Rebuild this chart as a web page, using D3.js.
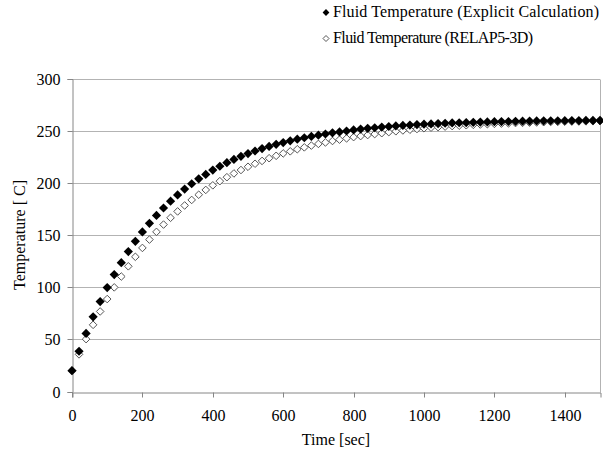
<!DOCTYPE html>
<html>
<head>
<meta charset="utf-8">
<script src="https://cdn.jsdelivr.net/npm/d3@7"></script>
<style>
  html, body { margin: 0; padding: 0; background: #fff; }
  svg { display: block; }
</style>
</head>
<body>
<svg id="chart" width="603" height="451"></svg>
<script>
// ---- data ----
const timeStart = 0, timeStep = 20;   // seconds between samples
const explicitTemp = [
  20, 38.6, 55.7, 71.6, 86.2, 99.6, 112.1, 123.5, 134.1, 143.9,
  152.9, 161.2, 168.8, 175.9, 182.4, 188.4, 194.0, 199.1, 203.8, 208.1,
  212.2, 215.9, 219.3, 222.4, 225.4, 228.0, 230.5, 232.8, 234.9, 236.9,
  238.6, 240.3, 241.8, 243.2, 244.5, 245.7, 246.8, 247.9, 248.8, 249.7,
  250.7, 251.5, 252.2, 252.8, 253.4, 254.0, 254.5, 255.0, 255.4, 255.8,
  256.2, 256.5, 256.8, 257.1, 257.4, 257.6, 257.8, 258.0, 258.2, 258.4,
  258.6, 258.7, 258.8, 259.0, 259.1, 259.2, 259.3, 259.4, 259.5, 259.5,
  259.6, 259.7, 259.7, 259.8, 259.8, 259.9
];
const relapTemp = [
  20, 35.6, 50.2, 63.9, 76.7, 88.6, 99.8, 110.2, 120.0, 129.1,
  137.6, 145.6, 153.0, 160.0, 166.5, 172.6, 178.3, 183.6, 188.6, 193.2,
  197.6, 201.6, 205.4, 209.0, 212.3, 215.4, 218.3, 221.0, 223.6, 225.9,
  228.2, 230.2, 232.2, 234.0, 235.7, 237.3, 238.7, 240.1, 241.4, 242.6,
  243.8, 244.8, 245.8, 246.7, 247.6, 248.6, 249.4, 250.2, 250.9, 251.6,
  252.3, 252.9, 253.4, 253.9, 254.4, 254.8, 255.2, 255.6, 255.9, 256.2,
  256.5, 256.8, 257.0, 257.3, 257.5, 257.7, 257.9, 258.1, 258.3, 258.4,
  258.6, 258.7, 258.8, 258.9, 259.0, 259.1
];
const xTicks = [0, 200, 400, 600, 800, 1000, 1200, 1400];
const yTicks = [0, 50, 100, 150, 200, 250, 300];
const seriesNames = ["Fluid Temperature (Explicit Calculation)", "Fluid Temperature (RELAP5-3D)"];
const xTitle = "Time [sec]";
const yTitle = "Temperature [ C]";

// ---- layout ----
const FONT = '"Liberation Serif"';
const svg = d3.select("#chart");
const plot = { left: 72, right: 600, top: 78.5, bottom: 391.5 };
const x = d3.scaleLinear().domain([0, 1500]).range([plot.left, plot.right]);
const y = d3.scaleLinear().domain([0, 300]).range([plot.bottom, plot.top]);

const axisColor = "#868686";
const gridColor = "#b3b3b3";
const fontSize = 16;

function styleText(sel) {
  sel.attr("font-family", "Liberation Serif").style("font-family", FONT)
     .attr("font-size", fontSize).attr("fill", "#000");
  return sel;
}

// gridlines
svg.append("g").selectAll("line").data(yTicks.filter(d => d > 0)).join("line")
  .attr("x1", plot.left).attr("x2", plot.right)
  .attr("y1", d => Math.round(y(d)) + 0.5).attr("y2", d => Math.round(y(d)) + 0.5)
  .attr("stroke", gridColor).attr("stroke-width", 1);

// right border
svg.append("line")
  .attr("x1", plot.right + 0.5).attr("x2", plot.right + 0.5)
  .attr("y1", Math.round(y(300)) + 0.5).attr("y2", Math.round(y(0)) + 0.5)
  .attr("stroke", gridColor);

// axes
const yAxis = svg.append("g")
  .attr("transform", `translate(${plot.left + 0.5},0.5)`)
  .call(d3.axisLeft(y).tickValues(yTicks).tickSize(5).tickPadding(7).tickFormat(d3.format("d")));
const xAxis = svg.append("g")
  .attr("transform", `translate(0.5,${Math.round(plot.bottom) + 0.5})`)
  .call(d3.axisBottom(x).tickValues(xTicks).tickSize(5).tickPadding(12).tickFormat(d3.format("d")));
[xAxis, yAxis].forEach(g => {
  g.attr("font-family", null).attr("font-size", null);
  g.select(".domain").attr("stroke", axisColor);
  g.selectAll(".tick line").attr("stroke", axisColor);
  styleText(g.selectAll(".tick text"));
});
yAxis.selectAll(".tick").attr("transform", d => `translate(0,${Math.round(y(d))})`);
xAxis.selectAll(".tick").attr("transform", d => `translate(${Math.round(x(d))},0)`);

// axis titles
styleText(svg.append("text").attr("x", (plot.left + plot.right) / 2).attr("y", 444.5)
  .attr("text-anchor", "middle")).text(xTitle);
styleText(svg.append("text")
  .attr("transform", `translate(24.5,${(plot.top + plot.bottom) / 2}) rotate(-90)`)
  .attr("text-anchor", "middle")).text(yTitle);

// diamond path
const diamond = r => `M0,${-r}L${r},0L0,${r}L${-r},0Z`;

const relapData = relapTemp.map((v, i) => ({ t: timeStart + i * timeStep, v }));
const explicitData = explicitTemp.map((v, i) => ({ t: timeStart + i * timeStep, v }));

svg.append("g").selectAll("path").data(relapData).join("path")
  .attr("transform", d => `translate(${x(d.t)},${y(d.v)})`)
  .attr("d", diamond(3.8))
  .attr("fill", "#fff").attr("stroke", "#555").attr("stroke-width", 1);

svg.append("g").selectAll("path").data(explicitData).join("path")
  .attr("transform", d => `translate(${x(d.t)},${y(d.v)})`)
  .attr("d", diamond(4.6))
  .attr("fill", "#000");

// legend
const legend = svg.append("g");
const legendRows = [
  { name: seriesNames[0], fill: "#000", stroke: "none", r: 3.4, y: 17, w: 266 },
  { name: seriesNames[1], fill: "#fff", stroke: "#555", r: 3.0, y: 43, w: 200 }
];
legendRows.forEach(row => {
  legend.append("path").attr("transform", `translate(326,${row.y - 4.5})`)
    .attr("d", diamond(row.r)).attr("fill", row.fill).attr("stroke", row.stroke);
  const t = styleText(legend.append("text").attr("x", 333).attr("y", row.y)).text(row.name);
  const w = t.node().getComputedTextLength();
  if (Math.abs(w - row.w) > 3) t.attr("textLength", row.w).attr("lengthAdjust", "spacing");
});
</script>
</body>
</html>
